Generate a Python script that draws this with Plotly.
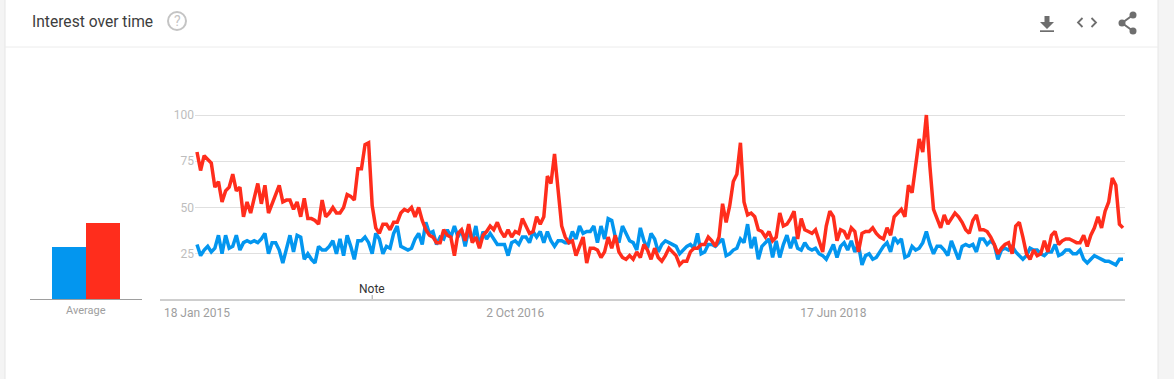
import pandas as pd
import plotly.graph_objects as go

# ---------------- data ----------------
START = "2015-01-18"
blue_values = [
    30, 24, 27, 29, 26, 28, 35, 25, 35, 28, 29, 35, 27, 31, 32, 31, 32, 31, 33, 36, 25, 31, 31, 27, 20,
    28, 35, 26, 35, 34, 22, 25, 22, 20, 29, 27, 27, 29, 32, 25, 33, 24, 35, 29, 22, 32, 32, 34, 31, 25,
    36, 33, 25, 29, 28, 36, 40, 29, 28,
    27, 28, 33, 36, 30, 42, 36, 37, 30, 34, 33, 38, 34, 40, 34, 38, 29, 38, 32, 40, 29, 37, 33, 36, 33,
    30, 30, 30, 24, 31, 32, 30,
    34, 34, 31, 37, 34, 37, 31, 37, 32, 29, 32, 32, 31, 31, 37, 33, 40, 36, 37, 37, 40, 31, 40, 33, 44,
    43, 34, 31, 40, 36, 32, 31, 27, 39, 32,
    28, 36, 33, 26, 30, 32, 31, 30, 29, 25, 27, 29, 30, 28, 36, 25, 26, 30, 30, 29, 31, 33, 24, 25, 27,
    28, 33, 31, 41, 28, 34, 22,
    29, 31, 33, 23, 32, 23, 30, 35, 28, 34, 28, 27, 31, 28, 27, 28, 25, 24, 22, 26, 30, 23, 29, 31, 27,
    32, 26, 30, 19, 24, 25, 22, 23, 26, 29,
    31, 26, 34, 31, 33, 23, 24, 29, 27, 28, 31, 37, 30, 25, 29, 29, 27, 24, 32, 27, 22, 29, 30, 29, 30,
    26, 33, 33, 30, 32, 30, 22, 27, 28,
    27, 29, 26, 24, 22, 24, 28, 27, 27, 25, 24, 26, 26, 30, 24, 25, 27, 27, 25, 25, 27, 22, 20, 22, 24,
    23, 22, 21, 21, 20, 19, 22, 22,
]
red_values = [
    80, 70, 78, 76, 74, 61, 64, 53, 59, 61, 68, 59, 61, 45, 53, 47, 56, 63, 52, 62, 47, 52, 56, 62, 53,
    54, 54, 49, 53, 45, 55, 44, 44, 43, 41, 54, 45, 47, 50, 47, 47, 50, 57, 56, 54, 71, 71, 84, 85, 51,
    39, 36, 41, 41, 38, 42, 42, 47, 49,
    48, 50, 45, 50, 43, 38, 35, 34, 31, 31, 38, 35, 34, 24, 36, 38, 32, 41, 31, 34, 28, 35, 37, 40, 38,
    42, 37, 34, 38, 34, 37, 36,
    44, 40, 36, 37, 45, 41, 45, 67, 63, 79, 60, 40, 34, 31, 32, 24, 29, 34, 20, 28, 28, 27, 23, 26, 34,
    28, 35, 26, 23, 22, 24, 22, 26, 23, 30,
    27, 22, 28, 23, 21, 24, 28, 26, 24, 19, 21, 21, 26, 28, 28, 30, 30, 34, 32, 29, 34, 52, 42, 51, 64,
    68, 85, 53, 46, 47, 45, 38, 37,
    34, 37, 32, 34, 47, 40, 41, 44, 48, 33, 44, 38, 37, 36, 38, 32, 26, 40, 48, 45, 32, 38, 37, 33, 39,
    37, 26, 36, 37, 37, 39, 36, 34, 33,
    39, 35, 45, 47, 49, 45, 62, 58, 74, 87, 80, 100, 72, 49, 44, 39, 46, 41, 44, 47, 45, 42, 38, 36, 43,
    46, 38, 38, 37, 34, 30, 25, 28, 30,
    31, 25, 40, 42, 34, 25, 22, 27, 24, 25, 32, 26, 35, 37, 30, 32, 33, 33, 32, 31, 31, 35, 29, 35, 39,
    45, 39, 48, 53, 66, 62, 41, 39,
]
avg_labels = ["Series A", "Series B"]
avg_values = [29, 42]
tick_dates = ["2015-01-18", "2016-10-02", "2018-06-17"]
tick_text = ["18 Jan 2015", "2 Oct 2016", "17 Jun 2018"]
y_ticks = [25, 50, 75, 100]
note_date = "2015-12-27"

# ---------------- styling ----------------
BLUE = "#0396ef"
RED = "#ff2d1c"
W, H = 1174, 379


def px(x):
    return x / W


def py(y):
    return 1 - y / H


weeks = pd.date_range(START, periods=len(blue_values), freq="7D")
step = pd.Timedelta(days=7)
x_lo = weeks[0] - step * 0.56
x_hi = weeks[-1] + step * 0.56

Y_RANGE = [-2, 104]
y_dom = [py(300 + 2 * 1.85), py(115 - 4 * 1.85)]

fig = go.Figure()
fig.add_trace(go.Scatter(x=weeks, y=blue_values, mode="lines",
                         line=dict(color=BLUE, width=3.5), xaxis="x", yaxis="y",
                         hoverinfo="skip"))
fig.add_trace(go.Scatter(x=weeks, y=red_values, mode="lines",
                         line=dict(color=RED, width=3.5), xaxis="x", yaxis="y",
                         hoverinfo="skip"))
fig.add_trace(go.Bar(x=avg_labels, y=avg_values, marker=dict(color=[BLUE, RED], line=dict(width=0)),
                     xaxis="x2", yaxis="y2", hoverinfo="skip"))

shapes = [
    # card background
    dict(type="rect", xref="paper", yref="paper", x0=px(5), x1=px(1158), y0=-0.01, y1=1.01,
         fillcolor="white", line=dict(color="#e6e6e6", width=1), layer="below"),
    # header separator
    dict(type="line", xref="paper", yref="paper", x0=px(5), x1=px(1158), y0=py(47), y1=py(47),
         line=dict(color="#ececec", width=1), layer="below"),
    # main x axis line
    dict(type="line", xref="paper", yref="y", x0=px(160), x1=px(1125), y0=0, y1=0,
         line=dict(color="#9e9e9e", width=1)),
    # average baseline
    dict(type="line", xref="paper", yref="paper", x0=px(30), x1=px(142), y0=py(299.5), y1=py(299.5),
         line=dict(color="#9e9e9e", width=1)),
    # note tick
    dict(type="line", xref="x", yref="paper", x0=note_date, x1=note_date, y0=py(295), y1=py(299),
         line=dict(color="#9e9e9e", width=1)),
    # question icon circle
    dict(type="circle", xref="paper", yref="paper", x0=px(168), x1=px(186), y0=py(30), y1=py(12),
         line=dict(color="#c4c4c4", width=2)),
    # download icon
    dict(type="path", xref="paper", yref="paper",
         path=f"M {px(1044.5)} {py(16)} L {px(1049.5)} {py(16)} L {px(1049.5)} {py(22)} "
              f"L {px(1054)} {py(22)} L {px(1047)} {py(29)} L {px(1040)} {py(22)} "
              f"L {px(1044.5)} {py(22)} Z",
         fillcolor="#6e6e6e", line=dict(width=0)),
    dict(type="rect", xref="paper", yref="paper", x0=px(1040), x1=px(1054), y0=py(32), y1=py(30.3),
         fillcolor="#6e6e6e", line=dict(width=0)),
    # embed <> icon
    dict(type="path", xref="paper", yref="paper",
         path=f"M {px(1082.5)} {py(18)} L {px(1078)} {py(22.5)} L {px(1082.5)} {py(27)}",
         line=dict(color="#6e6e6e", width=1.8)),
    dict(type="path", xref="paper", yref="paper",
         path=f"M {px(1091.5)} {py(18)} L {px(1096)} {py(22.5)} L {px(1091.5)} {py(27)}",
         line=dict(color="#6e6e6e", width=1.8)),
    # share icon
    dict(type="path", xref="paper", yref="paper",
         path=f"M {px(1133)} {py(15)} L {px(1122)} {py(23)} L {px(1133)} {py(31)}",
         line=dict(color="#6e6e6e", width=2)),
]
for cx, cy in [(1133, 15), (1122, 23), (1133, 31)]:
    shapes.append(dict(type="circle", xref="paper", yref="paper",
                       x0=px(cx - 3.5), x1=px(cx + 3.5), y0=py(cy + 3.5), y1=py(cy - 3.5),
                       fillcolor="#6e6e6e", line=dict(width=0)))

annotations = [
    dict(text="Interest over time", xref="paper", yref="paper", x=px(30), y=py(22),
         xanchor="left", yanchor="middle", showarrow=False,
         font=dict(family="Roboto", size=15.6, color="#3d3d3d")),
    dict(text="?", xref="paper", yref="paper", x=px(177), y=py(21.5),
         xanchor="center", yanchor="middle", showarrow=False,
         font=dict(family="Roboto", size=14, color="#c4c4c4")),
    dict(text="Average", xref="paper", yref="paper", x=px(86), y=py(310),
         xanchor="center", yanchor="middle", showarrow=False,
         font=dict(family="Roboto", size=11, color="#9e9e9e")),
    dict(text="Note", xref="x", yref="paper", x=note_date, y=py(289),
         xanchor="center", yanchor="middle", showarrow=False,
         font=dict(family="Roboto", size=12, color="#333333")),
]

fig.update_layout(
    width=W, height=H,
    margin=dict(l=0, r=0, t=0, b=0, pad=0, autoexpand=False),
    paper_bgcolor="#f4f4f4",
    plot_bgcolor="rgba(0,0,0,0)",
    showlegend=False,
    bargap=0,
    font=dict(family="Roboto"),
    xaxis=dict(domain=[px(195), px(1125)], range=[x_lo, x_hi], type="date",
               tickvals=tick_dates, ticktext=tick_text, showgrid=False, zeroline=False,
               showline=False, ticks="", tickfont=dict(family="Roboto", size=12, color="#9e9e9e"),
               anchor="y", automargin=False),
    yaxis=dict(domain=y_dom, range=Y_RANGE, tickvals=y_ticks, showgrid=True,
               gridcolor="#e0e0e0", gridwidth=1, zeroline=False, showline=False, ticks="",
               tickfont=dict(family="Roboto", size=12, color="#bdbdbd"), anchor="x",
               automargin=False),
    xaxis2=dict(domain=[px(52), px(120)], range=[-0.5, 1.5], showticklabels=False,
                showgrid=False, zeroline=False, showline=False, ticks="", anchor="y2",
                automargin=False),
    yaxis2=dict(domain=y_dom, range=Y_RANGE, showticklabels=False, showgrid=False,
                zeroline=False, showline=False, ticks="", anchor="x2", automargin=False),
    shapes=shapes,
    annotations=annotations,
)

fig.write_html(
    "out.html",
    config={"displayModeBar": False},
    post_script="document.body.style.margin='0px';document.body.style.overflow='hidden';",
)
